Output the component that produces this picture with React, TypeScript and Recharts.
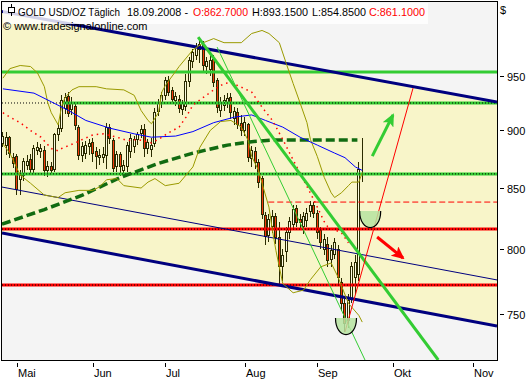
import { ComposedChart, Area, Bar, Line, Scatter, XAxis, YAxis, CartesianGrid } from 'recharts';

// one slot per weekday, bar 0 = 01.05.2008, first candle = 25.04.2008
const FIRST_BAR = -4;

// [open, high, low, close]
const ohlc: number[][] = [
  [888, 899, 885, 895], [887, 899, 878, 894], [894, 895, 876, 880], [876, 880, 867, 871],
  [877, 879, 844, 849], [857, 865, 844, 861], [861, 876, 856, 873], [869, 878, 865, 873],
  [874, 879, 862, 866], [866, 887, 862, 884], [882, 890, 878, 885], [881, 888, 876, 884],
  [882, 886, 860, 865], [865, 873, 859, 868], [868, 872, 861, 865], [866, 898, 864, 896],
  [896, 906, 891, 902], [902, 932, 899, 927], [920, 934, 915, 930], [931, 935, 912, 915],
  [919, 930, 914, 925], [922, 926, 900, 904], [903, 905, 874, 878], [878, 890, 872, 886],
  [880, 891, 875, 887], [886, 892, 878, 888], [889, 893, 872, 880], [881, 885, 866, 877],
  [876, 884, 870, 878], [876, 885, 871, 879], [878, 907, 866, 903], [903, 906, 888, 893],
  [891, 893, 864, 867], [868, 882, 864, 879], [879, 881, 860, 868], [865, 874, 860, 869],
  [868, 890, 864, 887], [881, 897, 876, 893], [886, 895, 880, 892], [892, 899, 887, 896],
  [897, 905, 893, 901], [901, 906, 877, 884], [884, 892, 879, 889], [883, 893, 877, 887],
  [888, 920, 885, 916], [917, 929, 913, 925], [925, 935, 920, 932], [932, 949, 928, 946],
  [946, 950, 931, 935], [936, 940, 924, 928], [927, 935, 922, 931], [928, 932, 916, 920],
  [919, 928, 914, 925], [922, 952, 918, 945], [945, 968, 940, 965], [964, 976, 958, 972],
  [970, 982, 965, 977], [975, 988, 962, 980], [980, 984, 955, 960], [959, 968, 952, 964],
  [956, 970, 950, 965], [966, 970, 940, 944], [946, 948, 916, 921], [918, 930, 912, 925],
  [923, 932, 918, 927], [925, 934, 920, 929], [930, 934, 910, 916], [911, 921, 905, 917],
  [916, 920, 901, 905], [906, 914, 895, 900], [900, 912, 895, 907], [905, 907, 872, 876],
  [875, 886, 868, 882], [881, 885, 866, 872], [872, 875, 850, 855], [858, 860, 824, 828],
  [827, 830, 803, 810], [811, 828, 806, 824], [818, 832, 813, 826], [826, 829, 804, 809],
  [809, 822, 773, 786], [786, 800, 775, 795], [798, 818, 790, 813], [813, 826, 808, 822],
  [820, 836, 815, 832], [833, 836, 818, 821], [824, 828, 815, 821], [818, 830, 812, 826],
  [823, 833, 818, 829], [830, 839, 826, 835], [835, 838, 825, 829], [829, 832, 808, 813],
  [815, 818, 800, 805], [800, 812, 795, 808], [804, 810, 786, 791], [792, 803, 786, 799],
  [796, 809, 792, 805], [800, 803, 772, 778], [774, 777, 752, 758], [758, 761, 737, 743],
  [745, 765, 740, 760], [762, 790, 758, 786], [778, 795, 765, 789], [780, 872, 775, 866],
  [862.7, 893.15, 854.85, 861.1],
];

const monthTicks = [0, 22, 43, 66, 87, 109, 132];
const monthNames = ['Mai', 'Jun', 'Jul', 'Aug', 'Sep', 'Okt', 'Nov'];
const priceTicks = [750, 800, 850, 900, 950];

const X_MIN = -4.26;
const X_MAX = 139;
const Y_MIN = 716.5;
const Y_MAX = 1022.5;

// indicators: [bar, price]
const bollUpper = [
  [-4, 948], [-2, 957], [1, 960], [4, 959], [6, 953], [8, 940], [9, 925], [10, 916], [12, 905],
  [13, 922], [14, 930], [16, 937], [18, 940], [23, 940], [26, 938], [31, 937], [34, 932],
  [36, 918], [38, 909], [39, 906], [41, 916], [42, 935], [43, 941], [47, 959], [51, 975],
  [54, 982], [57, 986], [60, 982], [65, 982], [68, 991], [71, 994], [73, 991], [76, 982],
  [78, 962], [80, 943], [82, 925], [84, 907], [85, 892], [87, 877], [89, 859], [91, 846],
  [92, 842], [94, 846], [96, 852], [97, 855], [99, 855], [100, 863],
];
const bollLower = [
  [-4, 888], [-2, 880], [1, 861], [4, 854], [8, 844], [12, 842], [14, 846], [18, 848],
  [22, 848], [24, 851], [26, 857], [29, 858], [31, 852], [36, 850], [38, 855], [40, 858],
  [43, 852], [47, 854], [51, 868], [53, 885], [56, 900], [59, 908], [62, 909], [65, 903],
  [67, 891], [68, 877], [70, 865], [71, 854], [73, 834], [74, 815], [75, 799], [77, 773],
  [80, 766], [83, 768], [85, 776], [88, 786], [91, 789], [93, 778], [96, 758], [99, 749],
  [100, 744],
];
const ma20 = [
  [-4, 916], [-2, 912], [1, 907], [4, 900], [7, 894], [10, 884], [12, 882], [13, 884],
  [17, 889], [19, 892], [22, 896], [25, 897], [29, 894], [32, 891], [35, 892], [39, 889],
  [41, 892], [44, 898], [47, 903], [49, 912], [51, 923], [54, 930], [57, 937], [60, 943],
  [62, 944], [64, 941], [68, 935], [71, 921], [74, 909], [77, 892], [80, 874], [83, 857],
  [86, 840], [89, 822], [90, 818], [94, 813], [96, 805],
];
const ma50 = [
  [-4, 938], [5, 934], [10, 926], [15, 918], [20, 909], [27, 902], [34, 897], [39, 894],
  [46, 895], [51, 899], [57, 907], [63, 912], [68, 914], [72, 909], [77, 903], [82, 894],
  [87, 887], [92, 880], [95, 876], [98, 868], [100, 865],
];
const ma200 = [
  [X_MIN, 820], [8, 832], [19, 844], [30, 859], [41, 871], [51, 880], [61, 887], [68, 890],
  [74, 891.5], [98.6, 891.5],
];

// drawn lines: [bar, price] end points
const channelTop = [[X_MIN, 1013], [X_MAX, 925.8]];
const channelBottom = [[X_MIN, 812.8], [X_MAX, 741.1]];
const channelMid = [[X_MIN, 850.8], [X_MAX, 775.8]];
const levelGreen1 = [[X_MIN, 953.8], [X_MAX, 953.8]];
const levelGreen2 = [[13.4, 924.9], [X_MAX, 924.9]];
const levelGreen2Dots = [[X_MIN, 924.9], [X_MAX, 924.9]];
const levelGreen3 = [[X_MIN, 862], [X_MAX, 862]];
const levelRed1 = [[X_MIN, 816], [X_MAX, 816]];
const levelRed2 = [[X_MIN, 771.9], [X_MAX, 771.9]];
const levelRedDash = [[72.8, 838.2], [X_MAX, 838.2]];
const trendThick = [[52.5, 987.5], [122, 716.5]];
const trendThin = [[58, 977.7], [100.8, 716.5]];
const redRay = [[95, 736.7], [114.7, 938.7]];
const arrowUp = [[102.9, 877.4], [108.9, 913.9]];
const arrowDown = [[104.3, 809.6], [111.8, 792.9]];
const bowls = [[102.3, 830.8], [95.3, 747]];

const rows = (arr: number[][]) => arr.map(([i, p]) => ({ i, p }));
const candleRows = ohlc.map(([o, h, l, c], k) => ({ i: FIRST_BAR + k, o, h, l, c }));
const channelRows = [
  { i: channelTop[0][0], r: [channelBottom[0][1], channelTop[0][1]] },
  { i: channelTop[1][0], r: [channelBottom[1][1], channelTop[1][1]] },
];

const FONT = 'Liberation Sans, Arial, sans-serif';
const NAVY = '#00007f';
const GREEN = '#33cc33';
const RED = '#ff0000';

function Candle(props: any) {
  const { x, y, width, height, payload } = props;
  const { o, h, l, c } = payload;
  const span = Math.log(h / l) || 1;
  const at = (p: number) => y + (height * Math.log(h / p)) / span;
  const c0 = Math.floor(x + width / 2);
  const top = at(Math.max(o, c));
  const bot = at(Math.min(o, c));
  return (
    <g shapeRendering="crispEdges">
      <line x1={c0 + 0.5} x2={c0 + 0.5} y1={y} y2={y + height} stroke="#2b2b00" />
      <rect x={c0 - 0.5} y={top} width={2} height={Math.max(bot - top, 1)} fill={c >= o ? '#fcfbe0' : '#f23a0c'} stroke="#2b2b00" />
    </g>
  );
}

function Bowl(props: any) {
  const { cx, cy } = props;
  const w = 10.5;
  const d = 17;
  const arc = `M${cx - w},${cy} C${cx - w},${cy + d * 1.3} ${cx + w},${cy + d * 1.3} ${cx + w},${cy}`;
  return (
    <g>
      <path d={`${arc} Z`} fill="#b6e3a0" fillOpacity={0.85} stroke="none" />
      <path d={arc} fill="none" stroke="#000" strokeWidth={1.2} />
    </g>
  );
}

function MonthTick(props: any) {
  const { x, y, payload } = props;
  const k = monthTicks.indexOf(payload.value);
  const xr = Math.round(x) + 0.5;
  return (
    <g>
      <line x1={xr} x2={xr} y1={y + 3} y2={y + 7} stroke="#000" />
      <text x={xr + 0.5} y={y + 17} fontSize={11} fontFamily={FONT} fill="#000">{monthNames[k]}</text>
    </g>
  );
}

function PriceTick(props: any) {
  const { x, y, payload } = props;
  const yr = Math.round(y) + 0.5;
  return (
    <g>
      <line x1={x + 3} x2={x + 7} y1={yr} y2={yr} stroke="#000" />
      <text x={x + 10} y={yr + 4} fontSize={11} fontFamily={FONT} fill="#000">{payload.value}</text>
    </g>
  );
}

const lineBase = { dataKey: 'p', type: 'linear' as const, dot: false, activeDot: false, isAnimationActive: false, legendType: 'none' as const };

export default function App() {
  return (
    <div style={{ position: 'absolute', left: 0, top: 0, width: 527, height: 380, background: '#fff' }}>
      <svg width={0} height={0} style={{ position: 'absolute' }}>
        <defs>
          <marker id="headGreen" markerUnits="userSpaceOnUse" markerWidth={13} markerHeight={12} refX={11} refY={6} orient="auto">
            <path d="M0,0 L13,6 L0,12 L3,6 z" fill={GREEN} />
          </marker>
          <marker id="headRed" markerUnits="userSpaceOnUse" markerWidth={13} markerHeight={12} refX={11} refY={6} orient="auto">
            <path d="M0,0 L13,6 L0,12 L3,6 z" fill={RED} />
          </marker>
        </defs>
      </svg>
      <ComposedChart width={527} height={380} data={candleRows} margin={{ top: 2, right: 0, bottom: 0, left: 2 }}>
        <CartesianGrid horizontal={false} vertical={false} fill="#f4f4f4" stroke="none" />
        <XAxis type="number" dataKey="i" domain={[X_MIN, X_MAX]} allowDataOverflow ticks={monthTicks} interval={0}
          height={20} axisLine={false} tickLine={false} tickSize={0} tickMargin={0} tick={<MonthTick />} />
        <YAxis orientation="right" scale="log" domain={[Y_MIN, Y_MAX]} allowDataOverflow ticks={priceTicks} interval={0}
          width={30} axisLine={false} tickLine={false} tickSize={0} tickMargin={0} tick={<PriceTick />} />

        <Area data={channelRows} dataKey="r" type="linear" fill="#f8f5c9" fillOpacity={1} stroke="none" isAnimationActive={false} legendType="none" />

        <Bar dataKey={(d: any) => [d.l, d.h]} barSize={3} shape={(p: any) => <Candle {...p} />} isAnimationActive={false} legendType="none" />

        <Line {...lineBase} data={rows(levelGreen1)} stroke={GREEN} strokeWidth={3} />
        <Line {...lineBase} data={rows(levelGreen2)} stroke={GREEN} strokeWidth={3} />
        <Line {...lineBase} data={rows(levelGreen2Dots)} stroke="#000" strokeWidth={1} strokeDasharray="1 2" />
        <Line {...lineBase} data={rows(levelGreen3)} stroke={GREEN} strokeWidth={3} />
        <Line {...lineBase} data={rows(levelGreen3)} stroke="#000" strokeWidth={1} strokeDasharray="1 2" />
        <Line {...lineBase} data={rows(levelRed1)} stroke={RED} strokeWidth={3} />
        <Line {...lineBase} data={rows(levelRed1)} stroke="#000" strokeWidth={1} strokeDasharray="1 2" />
        <Line {...lineBase} data={rows(levelRed2)} stroke={RED} strokeWidth={3} />
        <Line {...lineBase} data={rows(levelRed2)} stroke="#000" strokeWidth={1} strokeDasharray="1 2" />
        <Line {...lineBase} data={rows(levelRedDash)} stroke={RED} strokeWidth={1} strokeDasharray="6 3" />

        <Line {...lineBase} data={rows(channelTop)} stroke={NAVY} strokeWidth={3} />
        <Line {...lineBase} data={rows(channelBottom)} stroke={NAVY} strokeWidth={3} />
        <Line {...lineBase} data={rows(channelMid)} stroke={NAVY} strokeWidth={1} />

        <Line {...lineBase} data={rows(ma200)} stroke="#116b11" strokeWidth={3.5} strokeDasharray="9 4" />
        <Line {...lineBase} data={rows(bollUpper)} stroke="#9a9a00" strokeWidth={1} />
        <Line {...lineBase} data={rows(bollLower)} stroke="#9a9a00" strokeWidth={1} />
        <Line {...lineBase} data={rows(ma50)} stroke="#0000ff" strokeWidth={1} />
        <Line {...lineBase} data={rows(ma20)} stroke={RED} strokeWidth={1.5} strokeDasharray="1.5 4" />

        <Line {...lineBase} data={rows(trendThick)} stroke={GREEN} strokeWidth={3} />
        <Line {...lineBase} data={rows(trendThin)} stroke={GREEN} strokeWidth={1} />
        <Line {...lineBase} data={rows(redRay)} stroke={RED} strokeWidth={1} />
        <Line {...lineBase} data={rows(arrowUp)} stroke={GREEN} strokeWidth={3} markerEnd="url(#headGreen)" />
        <Line {...lineBase} data={rows(arrowDown)} stroke={RED} strokeWidth={3} markerEnd="url(#headRed)" />

        <Scatter data={rows(bowls)} dataKey="p" shape={(p: any) => <Bowl {...p} />} isAnimationActive={false} legendType="none" />
      </ComposedChart>

      <svg width={527} height={380} style={{ position: 'absolute', left: 0, top: 0, pointerEvents: 'none' }}>
        <rect x={1.5} y={1.5} width={496} height={359} fill="none" stroke="#000" />
        <rect x={3} y={3} width={425} height={21} fill="#fff" fillOpacity={0.82} />
        <line x1={11.5} x2={11.5} y1={4} y2={16} stroke="#000" />
        <rect x={8.5} y={7.5} width={6} height={5} fill="#fff" stroke="#000" />
        <g fontFamily={FONT} fontSize={11}>
          <text x={18} y={16} textLength={102} lengthAdjust="spacingAndGlyphs" fill="#000">GOLD USD/OZ Täglich</text>
          <text x={127} y={16} textLength={61} lengthAdjust="spacingAndGlyphs" fill="#000">18.09.2008 -</text>
          <text x={193} y={16} textLength={55} lengthAdjust="spacingAndGlyphs" fill={RED}>O:862.7000</text>
          <text x={252} y={16} textLength={56} lengthAdjust="spacingAndGlyphs" fill="#000">H:893.1500</text>
          <text x={312} y={16} textLength={54} lengthAdjust="spacingAndGlyphs" fill="#000">L:854.8500</text>
          <text x={369} y={16} textLength={56} lengthAdjust="spacingAndGlyphs" fill={RED}>C:861.1000</text>
          <text x={3} y={30} fill="#000">© www.tradesignalonline.com</text>
          <text x={500} y={14} fill="#000">$</text>
        </g>
      </svg>
    </div>
  );
}
